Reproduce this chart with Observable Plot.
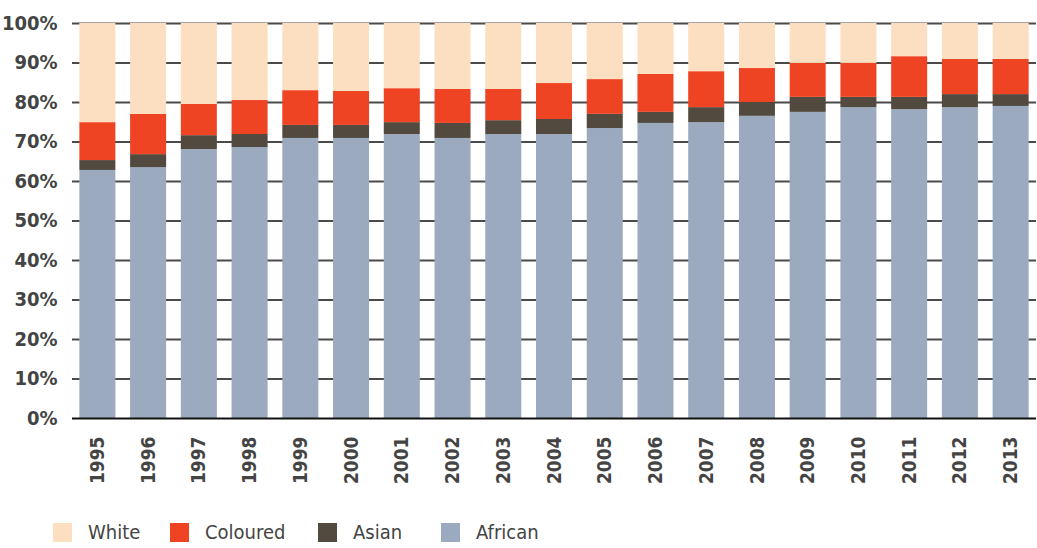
<!DOCTYPE html>
<html>
<head>
<meta charset="utf-8">
<script src="https://cdn.jsdelivr.net/npm/d3@7"></script>
<script src="https://cdn.jsdelivr.net/npm/@observablehq/plot@0.6"></script>
<style>
  body { margin: 0; background: #fff; font-family: "DejaVu Sans Condensed", "DejaVu Sans", sans-serif; font-stretch: condensed; }
  #chart { width: 1037px; }
  #chart svg text { font-stretch: condensed; }
  #legend { position: relative; height: 26px; margin-top: 21px; font-size: 20px; color: #444; }
  #legend .item { position: absolute; top: 0; display: flex; align-items: center; height: 22px; }
  #legend .sw { width: 19px; height: 19px; margin-right: 16px; }
</style>
</head>
<body>
<div id="chart"></div>
<div id="legend"></div>
<script>
const years = ["1995","1996","1997","1998","1999","2000","2001","2002","2003","2004","2005","2006","2007","2008","2009","2010","2011","2012","2013"];
const african  = [62.8, 63.5, 68.1, 68.6, 70.9, 70.9, 71.9, 70.9, 71.9, 71.9, 73.4, 74.7, 74.9, 76.5, 77.5, 78.7, 78.2, 78.7, 79.0];
const asian    = [2.5, 3.3, 3.5, 3.3, 3.3, 3.3, 3.0, 3.8, 3.5, 3.8, 3.6, 2.8, 3.8, 3.5, 3.8, 2.6, 3.1, 3.3, 3.0];
const coloured = [9.6, 10.2, 7.9, 8.6, 8.8, 8.6, 8.6, 8.6, 7.9, 9.1, 8.8, 9.6, 9.1, 8.6, 8.6, 8.6, 10.3, 8.9, 8.9];
const white    = [25.1, 23.0, 20.5, 19.5, 17.0, 17.2, 16.5, 16.7, 16.7, 15.2, 14.2, 12.9, 12.2, 11.4, 10.1, 10.1, 8.4, 9.1, 9.1];
const stackOrder = ["African", "Asian", "Coloured", "White"];
const legendOrder = ["White", "Coloured", "Asian", "African"];
const colors = {White: "#fbdfc0", Coloured: "#ef4423", Asian: "#524a3e", African: "#9caabf"};
const yTicks = [0, 10, 20, 30, 40, 50, 60, 70, 80, 90, 100];

const seriesValues = {African: african, Asian: asian, Coloured: coloured, White: white};
const data = [];
years.forEach((y, i) => {
  stackOrder.forEach(s => data.push({year: y, group: s, value: seriesValues[s][i]}));
});

const chart = Plot.plot({
  width: 1037,
  height: 500,
  marginLeft: 72,
  marginRight: 1,
  marginTop: 23,
  marginBottom: 82,
  style: {fontFamily: "'DejaVu Sans Condensed', 'DejaVu Sans', sans-serif", background: "#fff"},
  x: {domain: years, paddingInner: 0.29, paddingOuter: 0.145, round: false, label: null},
  y: {domain: [0, 100], label: null},
  color: {domain: stackOrder, range: stackOrder.map(s => colors[s])},
  marks: [
    Plot.ruleY(yTicks.filter(t => t > 0), {stroke: "#4a4a4a", strokeWidth: 1.8}),
    Plot.barY(data, {x: "year", y: "value", fill: "group", order: stackOrder}),
    Plot.ruleY([0], {stroke: "#111", strokeWidth: 1.8}),
    Plot.axisY(yTicks, {tickSize: 0, tickPadding: 15, tickFormat: d => d + "%", fontSize: 20, fontWeight: "bold", fill: "#444"}),
    Plot.axisX({tickSize: 0, tickPadding: 18, tickRotate: -90, fontSize: 19, fontWeight: "bold", fill: "#444"})
  ]
});
document.getElementById("chart").appendChild(chart);

// legend layout: left offset of each swatch in pixels
const legendLeft = [53, 170, 318, 441];
const legend = document.getElementById("legend");
legendOrder.forEach((s, i) => {
  const item = document.createElement("div");
  item.className = "item";
  item.style.left = legendLeft[i] + "px";
  const sw = document.createElement("div");
  sw.className = "sw";
  sw.style.background = colors[s];
  const lab = document.createElement("span");
  lab.textContent = s;
  item.appendChild(sw);
  item.appendChild(lab);
  legend.appendChild(item);
});
</script>
</body>
</html>
